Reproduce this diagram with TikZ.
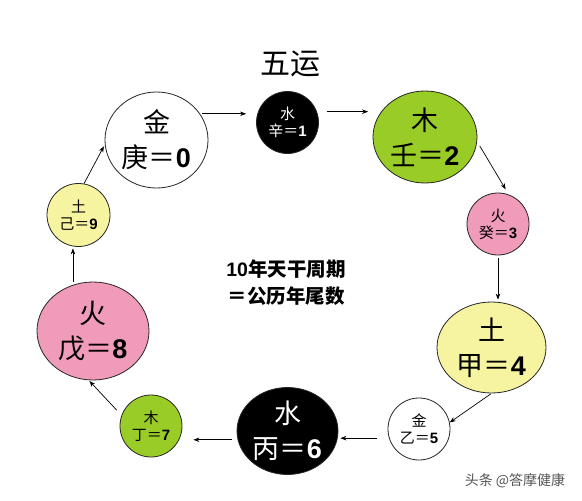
\documentclass[tikz,border=0pt]{standalone}
\usepackage{fontspec}
\setmainfont{Noto Sans CJK SC}
\newfontfamily\dg{Liberation Sans}
\usetikzlibrary{shapes.geometric,arrows.meta,calc}
\definecolor{leaf}{RGB}{154,204,40}
\definecolor{rose}{RGB}{240,155,185}
\definecolor{straw}{RGB}{246,244,160}
\definecolor{wm}{RGB}{85,85,85}
\tikzset{
  big/.style={ellipse, draw=black!85, line width=0.8pt, inner sep=0pt, align=center,
    font=\fontsize{27}{35}\selectfont},
  small/.style={circle, draw=black!85, line width=0.8pt, inner sep=0pt, align=center,
    minimum size=62pt, font=\fontsize{15}{17}\selectfont},
  arr/.style={-{Stealth[length=6pt,width=4.5pt]}, line width=0.7pt, black},
}
\newcommand{\num}[1]{{\dg\bfseries #1}}
\begin{document}
\begin{tikzpicture}[x=1pt,y=-1pt]
\useasboundingbox[fill=white] (0,0) rectangle (582,501);

\node[font=\fontsize{30}{32}\selectfont] (title) at (290,64) {五运};

\node[big, fill=white, minimum width=103pt, minimum height=96pt] (n0) at (156.5,140) {金\\庚＝\num{0}};
\node[small, fill=black, text=white] (n1) at (287.5,122.5) {水\\辛＝\num{1}};
\node[big, fill=leaf, minimum width=104pt, minimum height=92pt] (n2) at (425,137) {木\\壬＝\num{2}};
\node[small, fill=rose] (n3) at (498,224) {火\\癸＝\num{3}};
\node[big, fill=straw, minimum width=109pt, minimum height=91pt] (n4) at (491.5,347.5) {土\\甲＝\num{4}};
\node[small, fill=white] (n5) at (419,429) {金\\乙＝\num{5}};
\node[big, fill=black, text=white, minimum width=101pt, minimum height=87pt] (n6) at (287.5,431) {水\\丙＝\num{6}};
\node[small, fill=leaf] (n7) at (151,426) {木\\丁＝\num{7}};
\node[big, fill=rose, minimum width=112pt, minimum height=98pt] (n8) at (93,331) {火\\戊＝\num{8}};
\node[small, fill=straw, minimum size=63pt] (n9) at (78.5,215) {土\\己＝\num{9}};

\node[font=\fontsize{19.5}{27}\selectfont\bfseries, align=center] (mid) at (286,283) {\num{10}年天干周期\\＝公历年尾数};

\node[font=\fontsize{14}{16}\selectfont, text=wm] (mark) at (515,481) {头条 @答摩健康};

\draw[arr, shorten <=2pt, shorten >=10pt] (n0.31) -- (n0.31 -| n1.west);
\draw[arr, shorten <=8pt, shorten >=13pt] (n1.east |- n2.150) -- (n2.150);
\draw[arr, shorten <=5pt, shorten >=6pt] (n2.-5) -- (n3.70);
\draw[arr, shorten <=3pt, shorten >=2pt] (n3.south) -- (n3.south |- n4.north);
\draw[arr, shorten <=1pt] (n4.south) -- (n5.12);
\draw[arr, shorten <=12pt, shorten >=2pt] (n5.197) -- (n5.197 -| n6.east);
\draw[arr, shorten <=6pt, shorten >=11pt] (n6.190) -- (n6.190 -| n7.east);
\draw[arr, shorten <=7pt, shorten >=1pt] (n7.160) -- (n8.-95);
\draw[arr, shorten >=2pt] (n9.-100 |- n8.north) -- (n9.-100);
\draw[arr, shorten >=2pt] (n9.80) -- (n0.185);
\end{tikzpicture}
\end{document}
